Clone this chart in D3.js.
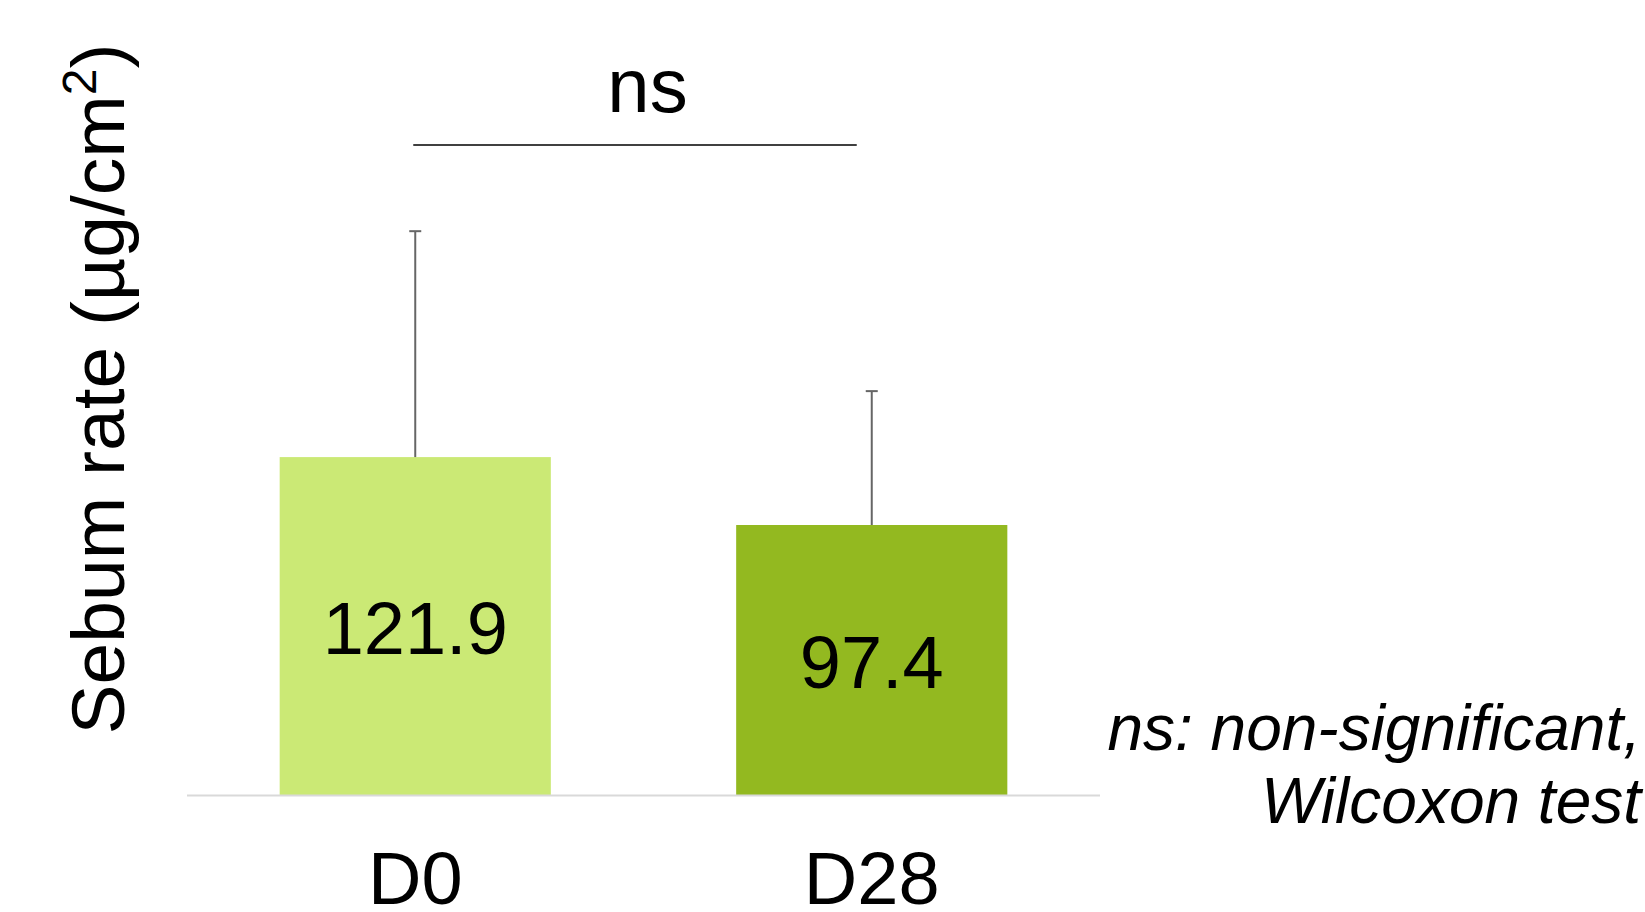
<!DOCTYPE html>
<html lang="en">
<head>
    <meta charset="utf-8">
    <title>Sebum rate</title>
    <style>
        html, body { margin: 0; padding: 0; background: #fff; }
        svg { display: block; font-family: "Liberation Sans", Arial, sans-serif; }
    </style>
</head>
<body>
    <svg class="chart"></svg>

    <script src="https://d3js.org/d3.v7.min.js"></script>
    <script>
        // Values
        var categories = ["D0", "D28"];
        var means = [121.9, 97.4];
        var sds = [81.5, 48.3];
        var barColors = ["#cbe975", "#93b920"];
        var yLabel = "Sebum rate  (\u00b5g/cm";
        var sigLabel = "ns";
        var footnote = ["ns: non-significant,", "Wilcoxon test"];

        var width = 1645,
            height = 912;

        var chart = d3.select(".chart")
            .attr("width", width)
            .attr("height", height);

        var x = d3.scaleBand()
            .domain(categories)
            .range([187, 1100])
            .paddingInner(0.406)
            .paddingOuter(0.203);

        var y = d3.scaleLinear()
            .domain([0, 250])
            .range([795, 102]);

        var data = categories.map(function(c, i) {
            return {name: c, mean: means[i], sd: sds[i], color: barColors[i]};
        });

        // bars
        chart.selectAll("rect.bar")
            .data(data)
            .enter().append("rect")
            .attr("class", "bar")
            .attr("x", function(d) { return x(d.name); })
            .attr("y", function(d) { return y(d.mean); })
            .attr("width", x.bandwidth())
            .attr("height", function(d) { return y(0) - y(d.mean); })
            .attr("fill", function(d) { return d.color; });

        // error bars (upper only)
        var err = chart.selectAll("g.err")
            .data(data)
            .enter().append("g")
            .attr("class", "err")
            .attr("stroke", "#666")
            .attr("stroke-width", 2);

        err.append("line")
            .attr("x1", function(d) { return x(d.name) + x.bandwidth() / 2; })
            .attr("x2", function(d) { return x(d.name) + x.bandwidth() / 2; })
            .attr("y1", function(d) { return y(d.mean); })
            .attr("y2", function(d) { return y(d.mean + d.sd); });

        err.append("line")
            .attr("x1", function(d) { return x(d.name) + x.bandwidth() / 2 - 6; })
            .attr("x2", function(d) { return x(d.name) + x.bandwidth() / 2 + 6; })
            .attr("y1", function(d) { return y(d.mean + d.sd); })
            .attr("y2", function(d) { return y(d.mean + d.sd); });

        // value labels inside bars
        chart.selectAll("text.val")
            .data(data)
            .enter().append("text")
            .attr("class", "val")
            .attr("x", function(d) { return x(d.name) + x.bandwidth() / 2; })
            .attr("y", function(d) { return (y(d.mean) + y(0)) / 2 + 28; })
            .attr("text-anchor", "middle")
            .attr("font-size", 74)
            .attr("fill", "#000")
            .text(function(d) { return d.mean.toFixed(1); });

        // x axis line
        chart.append("line")
            .attr("x1", x.range()[0])
            .attr("x2", x.range()[1])
            .attr("y1", y(0) + 0.5)
            .attr("y2", y(0) + 0.5)
            .attr("stroke", "#d9d9d9")
            .attr("stroke-width", 2);

        // category labels
        chart.selectAll("text.cat")
            .data(categories)
            .enter().append("text")
            .attr("class", "cat")
            .attr("x", function(d) { return x(d) + x.bandwidth() / 2; })
            .attr("y", 904)
            .attr("text-anchor", "middle")
            .attr("font-size", 74)
            .text(function(d) { return d; });

        // y axis title
        var yt = chart.append("text")
            .attr("transform", "translate(124,389) rotate(-90)")
            .attr("text-anchor", "middle")
            .attr("font-size", 75)
            .text(yLabel);
        yt.append("tspan")
            .attr("font-size", 48)
            .attr("dy", -28)
            .text("2");
        yt.append("tspan")
            .attr("dy", 28)
            .text(")");

        // significance bracket
        var c0 = x(categories[0]) + x.bandwidth() / 2,
            c1 = x(categories[1]) + x.bandwidth() / 2;
        chart.append("line")
            .attr("x1", c0 - 2)
            .attr("x2", c1 - 15)
            .attr("y1", 145)
            .attr("y2", 145)
            .attr("stroke", "#000")
            .attr("stroke-width", 1.5);
        chart.append("text")
            .attr("x", (c0 + c1) / 2 + 4)
            .attr("y", 112)
            .attr("text-anchor", "middle")
            .attr("font-size", 76)
            .text(sigLabel);

        // footnote
        chart.selectAll("text.note")
            .data(footnote)
            .enter().append("text")
            .attr("class", "note")
            .attr("x", 1641)
            .attr("y", function(d, i) { return 750 + i * 73; })
            .attr("text-anchor", "end")
            .attr("font-size", 64)
            .attr("font-style", "italic")
            .text(function(d) { return d; });
    </script>
</body>
</html>
